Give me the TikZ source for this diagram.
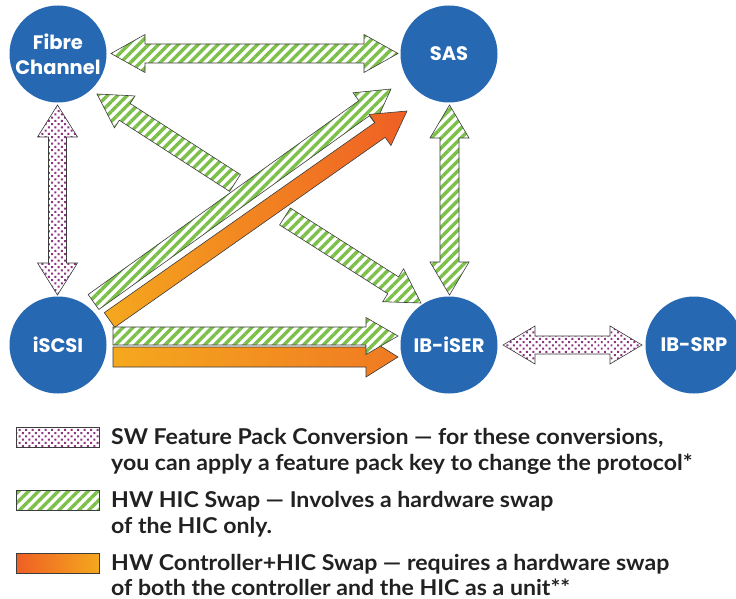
\documentclass[tikz,border=0pt]{standalone}
\usepackage{fontspec}
\usetikzlibrary{calc,patterns.meta}
\newfontfamily\circfont{Poppins}
\newfontfamily\legfont{Lato}[FakeStretch=1.06]
\definecolor{protoblue}{RGB}{38,104,178}
\definecolor{stripegreen}{RGB}{124,192,74}
\definecolor{dotpurple}{RGB}{140,52,128}
\definecolor{orangeY}{RGB}{245,168,30}
\definecolor{orangeR}{RGB}{239,95,36}
\definecolor{orangeM}{RGB}{240,122,34}
\definecolor{outlinegray}{RGB}{60,60,60}
% single-headed block arrow: #1 style, #2 tail, #3 tip, #4 half shaft, #5 half head, #6 head length
\newcommand{\blockarrow}[6]{%
  \coordinate (tmpH) at ($(#3)!#6!(#2)$);
  \path[#1] ($(#2)!#4!90:(#3)$) -- ($(tmpH)!#4!90:(#3)$) -- ($(tmpH)!#5!90:(#3)$) -- (#3)
    -- ($(tmpH)!#5!-90:(#3)$) -- ($(tmpH)!#4!-90:(#3)$) -- ($(#2)!#4!-90:(#3)$) -- cycle;
}
% double-headed block arrow
\newcommand{\dblockarrow}[6]{%
  \coordinate (tmpHa) at ($(#2)!#6!(#3)$);
  \coordinate (tmpHb) at ($(#3)!#6!(#2)$);
  \path[#1] (#2) -- ($(tmpHa)!#5!90:(#3)$) -- ($(tmpHa)!#4!90:(#3)$) -- ($(tmpHb)!#4!90:(#3)$)
    -- ($(tmpHb)!#5!90:(#3)$) -- (#3) -- ($(tmpHb)!#5!-90:(#3)$) -- ($(tmpHb)!#4!-90:(#3)$)
    -- ($(tmpHa)!#4!-90:(#3)$) -- ($(tmpHa)!#5!-90:(#3)$) -- cycle;
}
\tikzset{
  outl/.style={draw=outlinegray, line width=0.6pt, line join=miter},
  greenfill/.style={outl, preaction={fill=white},
    pattern={Lines[angle=45,distance=7pt,line width=3.4pt]}, pattern color=stripegreen},
  dotfill/.style={outl, preaction={fill=white},
    pattern={Dots[distance=4.6pt,radius=1.4pt,angle=45]}, pattern color=dotpurple},
  orangediag/.style={outl, left color=orangeY, right color=orangeR},
  orangehoriz/.style={outl, left color=orangeY, right color=orangeM},
  proto/.style={circle, fill=protoblue, minimum size=97pt, inner sep=0pt, text=white,
    align=center, font=\circfont\bfseries\fontsize{19.5pt}{25pt}\selectfont},
  legtext/.style={anchor=base west, inner sep=0pt, text=black!87,
    font=\legfont\bfseries\fontsize{21.8pt}{27pt}\selectfont},
  legbox/.style={anchor=north west, minimum width=83pt, minimum height=20pt, inner sep=0pt},
}
\begin{document}
\begin{tikzpicture}[x=1pt,y=-1pt]
\path[use as bounding box, fill=white] (0,0) rectangle (736,599);

% protocol circles
\node[proto] (fc) at (58,54) {Fibre\\Channel};
\node[proto] (sas) at (449,54) {SAS};
\node[proto] (iscsi) at (58,345) {iSCSI};
\node[proto] (iser) at (449,345) {IB-iSER};
\node[proto] (srp) at (694,345) {IB-SRP};

% arrow end points
\coordinate (fcsasA) at (111,53.5);
\coordinate (fcsasB) at (398,53.5);
\coordinate (fciscsiA) at (57.5,105);
\coordinate (fciscsiB) at (57.5,295);
\coordinate (sasiserA) at (449.5,105);
\coordinate (sasiserB) at (449.5,295);
\coordinate (isersrpA) at (503,345);
\coordinate (isersrpB) at (642,345);
\coordinate (gdiagT) at (93.5,302);
\coordinate (gdiagH) at (391,89);
\coordinate (odiagT) at (109.5,320);
\coordinate (odiagH) at (407,111);
\coordinate (tofcT) at (235,183);
\coordinate (tofcH) at (97,94);
\coordinate (toiserT) at (285,216.5);
\coordinate (toiserH) at (421,303);
\coordinate (ghorT) at (113,336);
\coordinate (ghorH) at (398,336);
\coordinate (ohorT) at (113,357);
\coordinate (ohorH) at (398,357);

% arrows
\dblockarrow{greenfill}{fcsasA}{fcsasB}{9.5pt}{19pt}{34pt}
\dblockarrow{dotfill}{fciscsiA}{fciscsiB}{9pt}{20pt}{32pt}
\dblockarrow{greenfill}{sasiserA}{sasiserB}{9.5pt}{19.5pt}{33pt}
\dblockarrow{dotfill}{isersrpA}{isersrpB}{9pt}{19pt}{32pt}
\blockarrow{greenfill}{tofcT}{tofcH}{10pt}{19pt}{33pt}
\blockarrow{greenfill}{toiserT}{toiserH}{10pt}{19.5pt}{33pt}
\blockarrow{greenfill}{gdiagT}{gdiagH}{9.2pt}{19pt}{33pt}
\blockarrow{orangediag}{odiagT}{odiagH}{9pt}{19pt}{33pt}
\blockarrow{orangehoriz}{ohorT}{ohorH}{10pt}{20pt}{32pt}
\blockarrow{greenfill}{ghorT}{ghorH}{9pt}{18.5pt}{32pt}

% legend
\node[legbox, dotfill] (leg1) at (16,427) {};
\node[legbox, greenfill] (leg2) at (16,490) {};
\node[legbox, outl, left color=orangeR, right color=orangeY] (leg3) at (16,553) {};
\node[legtext] (t1a) at (111,444) {SW Feature Pack Conversion — for these conversions,};
\node[legtext] (t1b) at (111,470.5) {you can apply a feature pack key to change the protocol*};
\node[legtext] (t2a) at (111,507) {HW HIC Swap — Involves a hardware swap};
\node[legtext] (t2b) at (111,533.5) {of the HIC only.};
\node[legtext] (t3a) at (111,570) {HW Controller+HIC Swap — requires a hardware swap};
\node[legtext] (t3b) at (111,595.5) {of both the controller and the HIC as a unit**};
\end{tikzpicture}
\end{document}
